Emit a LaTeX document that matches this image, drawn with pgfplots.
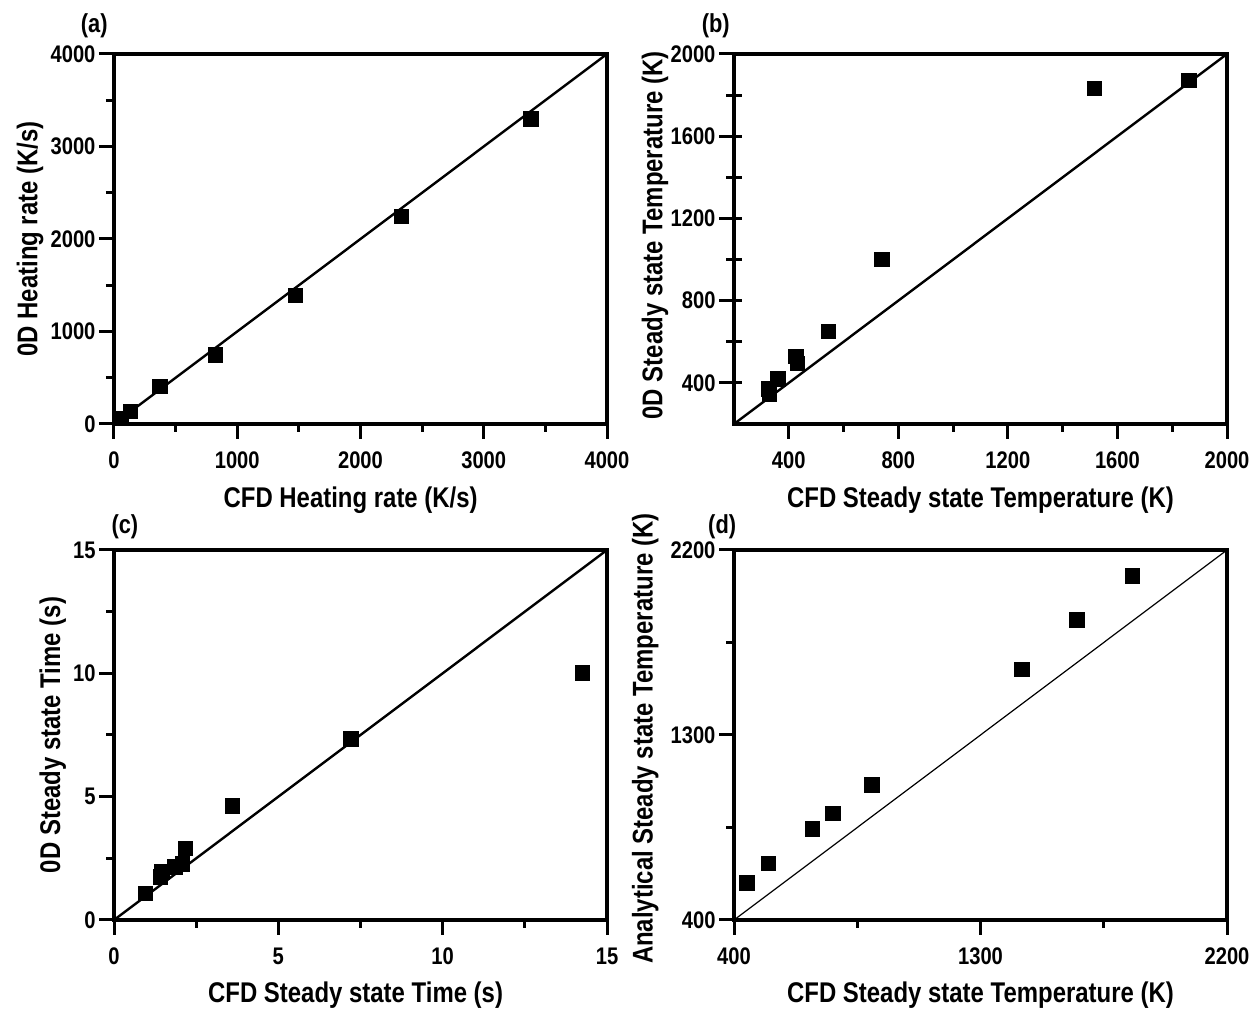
\documentclass[border=0pt]{standalone}
\usepackage{fontspec}
\setmainfont{Liberation Sans}[FakeStretch=0.84]
\usepackage{pgfplots}
\pgfplotsset{compat=1.18}

\pgfplotsset{
  panel/.style={
    scale only axis, width=493pt, height=370pt,
    anchor=south west,
    separate axis lines,
    axis line style={line width=3.6pt, line cap=rect},
    tick style={black, line width=3pt},
    tick align=outside,
    major tick length=15pt, minor tick length=8pt,
    xtick pos=bottom, ytick pos=left,
    minor x tick num=1, minor y tick num=1,
    xticklabel style={yshift=-9pt},
    /pgf/number format/assume math mode=true,
    /pgf/number format/1000 sep={},
    tick label style={font=\fontsize{24}{28}\selectfont\bfseries},
    label style={font=\fontsize{28.5}{34}\selectfont\bfseries},
    clip=false,
  },
  sq/.style={only marks, mark=square*, mark size=7.2pt,
    mark options={fill=black, draw=black, line width=0.5pt}},
}
\tikzset{tag/.style={font=\fontsize{26}{30}\selectfont\bfseries}}

\begin{document}
\begin{tikzpicture}[x=1pt,y=1pt]
\useasboundingbox (0,0) rectangle (1254,1009);

% (a) heating rate
\begin{axis}[panel, at={(114pt,585pt)},
  xmin=0, xmax=4000, ymin=0, ymax=4000,
  xtick={0,1000,2000,3000,4000}, ytick={0,1000,2000,3000,4000},
  xlabel={CFD Heating rate (K/s)}, ylabel={0D Heating rate (K/s)},
  xlabel style={at={(axis description cs:0.48,-0.205)}, anchor=center},
  ylabel style={at={(axis description cs:-0.170,0.5)}, anchor=center}]
\addplot[line width=2.4pt] coordinates {(0,0) (4000,4000)};
\addplot[sq] coordinates {
  (60,65) (130,140) (370,410) (820,750) (1470,1395) (2330,2245) (3380,3300)};
\node[tag] at (rel axis cs:-0.04,1.075) {(a)};
\end{axis}

% (b) steady-state temperature, 0D vs CFD
\begin{axis}[panel, at={(734pt,585pt)},
  xmin=200, xmax=2000, ymin=200, ymax=2000,
  xtick={400,800,1200,1600,2000}, ytick={400,800,1200,1600,2000},
  xlabel={CFD Steady state Temperature (K)}, ylabel={0D Steady state Temperature (K)},
  xlabel style={at={(axis description cs:0.5,-0.205)}, anchor=center},
  ylabel style={at={(axis description cs:-0.160,0.51)}, anchor=center}]
\addplot[line width=2.4pt] coordinates {(200,200) (2000,2000)};
\addplot[sq] coordinates {
  (326,372) (328,345) (359,421) (425,530) (430,495) (545,650)
  (740,1000) (1515,1832) (1860,1872)};
\node[tag] at (rel axis cs:-0.037,1.075) {(b)};
\end{axis}
% inward ticks on the right spine of (b)
\begin{axis}[panel, at={(734pt,585pt)},
  xmin=200, xmax=2000, ymin=200, ymax=2000,
  hide x axis, axis y line*=right, tick align=inside,
  ytick={400,800,1200,1600,2000}, yticklabels={},
  minor tick length=8pt, major tick length=8pt]
\end{axis}

% (c) steady-state time
\begin{axis}[panel, at={(114pt,89pt)},
  xmin=0, xmax=15, ymin=0, ymax=15,
  xtick={0,5,10,15}, ytick={0,5,10,15},
  xlabel={CFD Steady state Time (s)}, ylabel={0D Steady state Time (s)},
  xlabel style={at={(axis description cs:0.49,-0.203)}, anchor=center},
  ylabel style={at={(axis description cs:-0.124,0.5)}, anchor=center}]
\addplot[line width=2.4pt] coordinates {(0,0) (15,15)};
\addplot[sq] coordinates {
  (0.95,1.08) (1.40,1.75) (1.45,1.96) (1.85,2.16) (2.08,2.28) (2.16,2.92)
  (3.60,4.63) (7.20,7.34) (14.25,10.02)};
\node[tag] at (rel axis cs:0.022,1.062) {(c)};
\end{axis}

% (d) analytical vs CFD temperature
\begin{axis}[panel, at={(734pt,89pt)},
  xmin=400, xmax=2200, ymin=400, ymax=2200,
  xtick={400,1300,2200}, ytick={400,1300,2200},
  xlabel={CFD Steady state Temperature (K)}, ylabel={Analytical Steady state Temperature (K)},
  xlabel style={at={(axis description cs:0.5,-0.203)}, anchor=center},
  ylabel style={at={(axis description cs:-0.180,0.49)}, anchor=center}]
\addplot[line width=1.2pt] coordinates {(400,400) (2200,2200)};
\addplot[sq] coordinates {
  (446,581) (525,676) (686,843) (760,919) (903,1057)
  (1451,1620) (1652,1860) (1853,2075)};
\node[tag] at (rel axis cs:-0.024,1.062) {(d)};
\end{axis}
\end{tikzpicture}
\end{document}
